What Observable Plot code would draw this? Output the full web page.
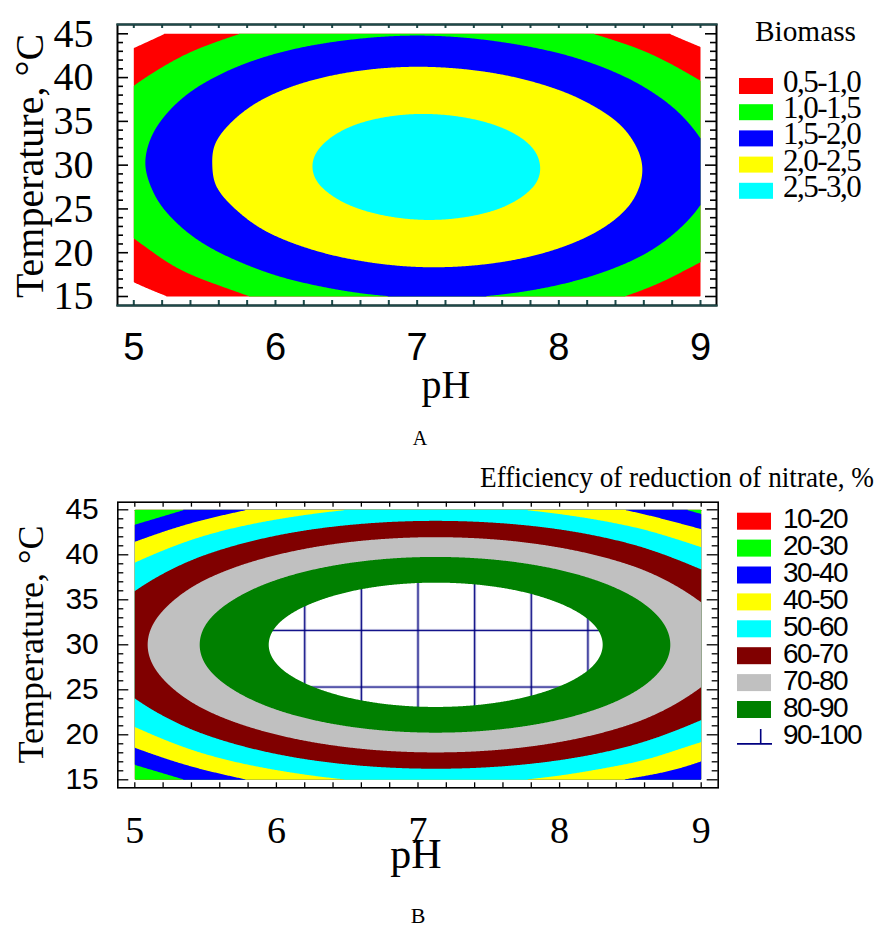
<!DOCTYPE html>
<html><head><meta charset="utf-8">
<script src="https://cdn.jsdelivr.net/npm/d3@7"></script>
<script src="https://cdn.jsdelivr.net/npm/@observablehq/plot@0.6"></script>
<style>
body{margin:0;background:#fff;}
#root{position:relative;width:880px;height:928px;overflow:hidden;}
#root svg{position:absolute;left:0;}
</style></head><body><div id="root"></div>
<script>
// ---------------- DATA ----------------
const phGrid   = [5, 5.5, 6, 6.5, 7, 7.5, 8, 8.5, 9];
const tempGrid = [15, 17.5, 20, 22.5, 25, 27.5, 30, 32.5, 35, 37.5, 40, 42.5, 45];

// Biomass (values at tempGrid, one array per pH)
const biomass_pH5_0 = [0.30, 0.60, 0.84, 1.08, 1.26, 1.36, 1.41, 1.38, 1.29, 1.13, 0.91, 0.62, 0.26];
const biomass_pH5_5 = [0.72, 1.09, 1.40, 1.64, 1.81, 1.92, 1.95, 1.93, 1.83, 1.67, 1.44, 1.15, 0.79];
const biomass_pH6_0 = [1.14, 1.51, 1.81, 2.05, 2.21, 2.32, 2.35, 2.32, 2.22, 2.06, 1.83, 1.53, 1.17];
const biomass_pH6_5 = [1.41, 1.77, 2.07, 2.30, 2.47, 2.57, 2.60, 2.56, 2.46, 2.29, 2.06, 1.76, 1.39];
const biomass_pH7_0 = [1.52, 1.89, 2.18, 2.41, 2.57, 2.67, 2.69, 2.66, 2.55, 2.38, 2.14, 1.84, 1.47];
const biomass_pH7_5 = [1.49, 1.85, 2.14, 2.36, 2.52, 2.61, 2.64, 2.60, 2.49, 2.31, 2.07, 1.76, 1.39];
const biomass_pH8_0 = [1.31, 1.66, 1.95, 2.17, 2.32, 2.41, 2.43, 2.39, 2.28, 2.10, 1.85, 1.54, 1.16];
const biomass_pH8_5 = [0.97, 1.32, 1.61, 1.83, 1.98, 2.06, 2.08, 2.03, 1.92, 1.73, 1.48, 1.17, 0.79];
const biomass_pH9_0 = [0.52, 0.83, 1.12, 1.33, 1.48, 1.56, 1.57, 1.52, 1.40, 1.22, 0.96, 0.65, 0.26];

// Efficiency of reduction of nitrate, % (values at tempGrid, one array per pH)
const eff_pH5_0 = [20.2, 34.7, 46.5, 55.7, 62.2, 66.2, 67.5, 66.2, 62.2, 55.7, 46.5, 34.7, 20.2];
const eff_pH5_5 = [33.7, 48.2, 60.0, 69.2, 75.7, 79.7, 81.0, 79.7, 75.7, 69.2, 60.0, 48.2, 33.7];
const eff_pH6_0 = [43.6, 58.1, 69.9, 79.1, 85.6, 89.6, 90.9, 89.6, 85.6, 79.1, 69.9, 58.1, 43.6];
const eff_pH6_5 = [49.9, 64.4, 76.2, 85.4, 91.9, 95.9, 97.2, 95.9, 91.9, 85.4, 76.2, 64.4, 49.9];
const eff_pH7_0 = [52.6, 67.1, 78.9, 88.1, 94.6, 98.6, 99.9, 98.6, 94.6, 88.1, 78.9, 67.1, 52.6];
const eff_pH7_5 = [51.7, 66.2, 78.0, 87.2, 93.7, 97.7, 99.0, 97.7, 93.7, 87.2, 78.0, 66.2, 51.7];
const eff_pH8_0 = [47.2, 61.7, 73.5, 82.7, 89.2, 93.2, 94.5, 93.2, 89.2, 82.7, 73.5, 61.7, 47.2];
const eff_pH8_5 = [39.1, 53.6, 65.4, 74.6, 81.1, 85.1, 86.4, 85.1, 81.1, 74.6, 65.4, 53.6, 39.1];
const eff_pH9_0 = [32.0, 41.9, 53.7, 62.9, 69.4, 73.4, 74.7, 73.4, 69.4, 62.9, 53.7, 41.9, 27.4];

// Contour levels, legend labels and colours
const biomassLevels = [0.5, 1.0, 1.5, 2.0, 2.5];
const biomassLabels = ["0,5-1,0", "1,0-1,5", "1,5-2,0", "2,0-2,5", "2,5-3,0"];
const biomassColors = ["#ff0000", "#00ff00", "#0000ff", "#ffff00", "#00ffff"];

const effLevels = [10, 20, 30, 40, 50, 60, 70, 80];
const effLabels = ["10-20", "20-30", "30-40", "40-50", "50-60", "60-70", "70-80", "80-90", "90-100"];
const effColors = ["#ff0000", "#00ff00", "#0000ff", "#ffff00", "#00ffff", "#800000", "#c0c0c0", "#008000"];
const effTopLevel = 90;           // 90-100 : hatched (white with grid)
const hatchPH = [6.2, 6.6];       // two neighbouring grid lines of the hatch
const hatchT = 31.6;              // one horizontal hatch line

// Axis ticks
const phTickLabels = [5, 6, 7, 8, 9];
const phMinorTicks = [5, 5.2, 5.4, 5.6, 5.8, 6, 6.2, 6.4, 6.6, 6.8, 7, 7.2, 7.4, 7.6, 7.8, 8, 8.2, 8.4, 8.6, 8.8, 9];
const tempTickLabels = [15, 20, 25, 30, 35, 40, 45];
const tempMinorTicks = [16, 17, 18, 19, 21, 22, 23, 24, 26, 27, 28, 29, 31, 32, 33, 34, 36, 37, 38, 39, 41, 42, 43, 44];

// ---------------- BUILD ----------------
function toTable(rows) {
  return phGrid.flatMap((p, i) => tempGrid.map((t, j) => ({pH: p, t, v: rows[i][j]})));
}
const biomassData = toTable([biomass_pH5_0, biomass_pH5_5, biomass_pH6_0, biomass_pH6_5, biomass_pH7_0, biomass_pH7_5, biomass_pH8_0, biomass_pH8_5, biomass_pH9_0]);
const effData = toTable([eff_pH5_0, eff_pH5_5, eff_pH6_0, eff_pH6_5, eff_pH7_0, eff_pH7_5, eff_pH8_0, eff_pH8_5, eff_pH9_0]);

// Smooth (bicubic Catmull-Rom) raster interpolator over the regular sample grid,
// used by the contour mark instead of the piecewise-linear barycentric one.
function gridSpline(nx, ny) {
  return (index, w, h, X, Y, V) => {
    const gx = new Float64Array(nx), gy = new Float64Array(ny);
    const G = Array.from({length: nx}, () => new Float64Array(ny));
    for (const i of index) {
      const a = Math.floor(i / ny), b = i % ny;
      gx[a] = X[i]; gy[b] = Y[i]; G[a][b] = V[i];
    }
    const val = (a, b) => {
      if (a < 0) return 2 * val(0, b) - val(1, b);
      if (a > nx - 1) return 2 * val(nx - 1, b) - val(nx - 2, b);
      if (b < 0) return 2 * val(a, 0) - val(a, 1);
      if (b > ny - 1) return 2 * val(a, ny - 1) - val(a, ny - 2);
      return G[a][b];
    };
    const cr = (p0, p1, p2, p3, t) =>
      0.5 * (2 * p1 + (p2 - p0) * t + (2 * p0 - 5 * p1 + 4 * p2 - p3) * t * t + (3 * p1 - p0 - 3 * p2 + p3) * t * t * t);
    const out = new Float64Array(w * h);
    const sx = (nx - 1) / (gx[nx - 1] - gx[0]), sy = (ny - 1) / (gy[ny - 1] - gy[0]);
    for (let r = 0; r < h; ++r) {
      const v = Math.max(0, Math.min(ny - 1, (r + 0.5 - gy[0]) * sy));
      const b = Math.min(ny - 2, Math.floor(v)), tv = v - b;
      for (let c = 0; c < w; ++c) {
        const u = Math.max(0, Math.min(nx - 1, (c + 0.5 - gx[0]) * sx));
        const a = Math.min(nx - 2, Math.floor(u)), tu = u - a;
        const col = [];
        for (let k = -1; k <= 2; ++k) {
          col.push(cr(val(a - 1, b + k), val(a, b + k), val(a + 1, b + k), val(a + 2, b + k), tu));
        }
        out[r * w + c] = cr(col[0], col[1], col[2], col[3], tv);
      }
    }
    return out;
  };
}
const smooth = gridSpline(phGrid.length, tempGrid.length);

const SERIF = "'Liberation Serif','Times New Roman',serif";
const SANS = "'Liberation Sans',Arial,sans-serif";
const W = 880;
const teal = "#1d4a4a";

function tickMarks(fw, fh, o) {
  return [
    Plot.tickX(phMinorTicks, {x: d => d, insetTop: fh - o.xBottom, stroke: o.xStroke, strokeWidth: o.xw}),
    Plot.tickX(phMinorTicks, {x: d => d, insetBottom: fh - o.xTop, stroke: o.xStroke, strokeWidth: o.xw}),
    Plot.tickY(tempMinorTicks, {y: d => d, insetRight: fw - o.yMinor, stroke: o.yStroke, strokeWidth: o.yw}),
    Plot.tickY(tempTickLabels, {y: d => d, insetRight: fw - o.yMajor, stroke: o.yStroke, strokeWidth: o.yw}),
    Plot.tickY(tempMinorTicks, {y: d => d, insetLeft: fw - o.yMinor, stroke: o.yStroke, strokeWidth: o.yw}),
    Plot.tickY(tempTickLabels, {y: d => d, insetLeft: fw - o.yMajor, stroke: o.yStroke, strokeWidth: o.yw})
  ];
}

function addText(svg, str, o) {
  const t = d3.select(svg).append("text")
    .attr("font-family", o.family).attr("font-size", o.size)
    .attr("text-anchor", o.anchor || "start").attr("fill", "#000").text(str);
  if (o.rotate) t.attr("transform", `translate(${o.x},${o.y}) rotate(${o.rotate})`);
  else t.attr("x", o.x).attr("y", o.y);
  if (o.spacing) t.attr("letter-spacing", o.spacing);
  if (o.length) t.attr("textLength", o.length).attr("lengthAdjust", "spacingAndGlyphs");
  return t;
}
function styleAxis(svg, k, size, family) {
  d3.select(svg).selectAll(`g[aria-label="${k}-axis tick label"]`)
    .attr("font-size", size).attr("font-family", family)
    .selectAll("text").attr("font-size", null).attr("font-family", null);
}

const root = document.getElementById("root");

// ---------- Chart A ----------
{
  const H = 460, L = 117, R = 716, T = 24, B = 305;
  const fw = R - L, fh = B - T;
  const plot = Plot.plot({
    width: W, height: H,
    marginLeft: L, marginRight: W - R, marginTop: T, marginBottom: H - B,
    style: {background: "transparent", overflow: "visible"},
    x: {domain: [5, 9], insetLeft: 16.3, insetRight: 16},
    y: {domain: [15, 45], insetTop: 9.3, insetBottom: 9},
    color: {type: "ordinal", domain: biomassLevels, range: biomassColors},
    marks: [
      Plot.contour(biomassData, {x: "pH", y: "t", fill: "v", thresholds: biomassLevels,
        interpolate: smooth, x1: 5, x2: 9, y1: 15, y2: 45, pixelSize: 1}),
      ...tickMarks(fw, fh, {xTop: 4, xBottom: 5, yMinor: 6, yMajor: 11, xStroke: teal, yStroke: "#000", xw: 2, yw: 1.6}),
      Plot.frame({stroke: "#000", strokeWidth: 2}),
      Plot.frame({anchor: "top", stroke: teal, strokeWidth: 2.2}),
      Plot.frame({anchor: "bottom", stroke: teal, strokeWidth: 2.2}),
      Plot.axisX(phTickLabels, {tickSize: 0, tickPadding: 28, tickFormat: d => String(d), label: null}),
      Plot.axisY(tempTickLabels, {tickSize: 0, tickPadding: 24, tickFormat: d => String(d), label: null})
    ]
  });
  plot.style.top = "0px";
  root.appendChild(plot);
  styleAxis(plot, "x", 38, SANS);
  styleAxis(plot, "y", 40, SERIF);
  addText(plot, "Temperature, °C", {x: 43, y: 166, rotate: -90, size: 40, family: SERIF, anchor: "middle"});
  addText(plot, "pH", {x: 446, y: 398, size: 40, family: SERIF, anchor: "middle"});
  addText(plot, "A", {x: 420, y: 445, size: 20, family: SERIF, anchor: "middle"});
  addText(plot, "Biomass", {x: 755, y: 40.5, size: 30, family: SERIF, length: 101});
  biomassLabels.forEach((lab, i) => {
    const y = 78 + i * 26.2;
    d3.select(plot).append("rect").attr("x", 739).attr("y", y).attr("width", 34).attr("height", 16).attr("fill", biomassColors[i]);
    addText(plot, lab, {x: 783, y: y + 14, size: 31, family: SERIF, spacing: -1.5});
  });
}

// ---------- Chart B ----------
{
  const top = 460;
  const H = 468, L = 117.3, R = 717.7, T = 501.7 - top, B = 787.3 - top;
  const fw = R - L, fh = B - T;
  const hatch = "url(#hatchB)";
  const plot = Plot.plot({
    width: W, height: H,
    marginLeft: L, marginRight: W - R, marginTop: T, marginBottom: H - B,
    style: {background: "transparent", overflow: "visible"},
    x: {domain: [5, 9], insetLeft: 17, insetRight: 17},
    y: {domain: [15, 45], insetTop: 7.6, insetBottom: 8},
    color: {type: "ordinal", domain: effLevels, range: effColors},
    marks: [
      Plot.contour(effData, {x: "pH", y: "t", fill: "v", thresholds: effLevels,
        interpolate: smooth, x1: 5, x2: 9, y1: 15, y2: 45, pixelSize: 1}),
      Plot.contour(effData, {x: "pH", y: "t", value: "v", fill: hatch, thresholds: [effTopLevel],
        interpolate: smooth, x1: 5, x2: 9, y1: 15, y2: 45, pixelSize: 1}),
      ...tickMarks(fw, fh, {xTop: 5, xBottom: 5, yMinor: 6, yMajor: 11, xStroke: "#000", yStroke: "#000", xw: 1.3, yw: 1.3}),
      Plot.frame({stroke: "#000", strokeWidth: 1.6}),
      Plot.axisX(phTickLabels, {tickSize: 0, tickPadding: 28, tickFormat: d => String(d), label: null}),
      Plot.axisY(tempTickLabels, {tickSize: 0, tickPadding: 19, tickFormat: d => String(d), label: null})
    ]
  });
  plot.style.top = top + "px";
  root.appendChild(plot);
  styleAxis(plot, "x", 38, SERIF);
  styleAxis(plot, "y", 30, SANS);

  // hatch pattern for the 90-100 level, aligned to the data scales
  const xs = plot.scale("x"), ys = plot.scale("y");
  const x0 = xs.apply(hatchPH[0]);
  const step = xs.apply(hatchPH[1]) - x0;
  const y0 = ys.apply(hatchT);
  const defs = d3.select(plot).insert("defs", ":first-child");
  const pat = defs.append("pattern").attr("id", "hatchB").attr("patternUnits", "userSpaceOnUse")
    .attr("x", x0 - step / 2).attr("y", y0 - step / 2).attr("width", step).attr("height", step);
  pat.append("rect").attr("width", step).attr("height", step).attr("fill", "#fff");
  pat.append("path").attr("d", `M${step / 2},0V${step}M0,${step / 2}H${step}`)
    .attr("stroke", "#000080").attr("stroke-width", 1.6).attr("fill", "none");

  addText(plot, "Temperature, °C", {x: 43.3, y: 184.5, rotate: -90, size: 36, family: SERIF, anchor: "middle"});
  addText(plot, "pH", {x: 416, y: 408, size: 42, family: SERIF, anchor: "middle"});
  addText(plot, "B", {x: 418, y: 463, size: 22, family: SERIF, anchor: "middle"});
  addText(plot, "Efficiency of reduction of nitrate, %", {x: 480, y: 26.7, size: 30, family: SERIF, length: 394});
  effLabels.forEach((lab, i) => {
    const y = 52.7 + i * 26.9;
    if (i < effColors.length) {
      d3.select(plot).append("rect").attr("x", 737).attr("y", y).attr("width", 34).attr("height", 17).attr("fill", effColors[i]);
    } else {
      d3.select(plot).append("path").attr("d", `M737,${y + 16}H772M760.7,${y + 1}V${y + 16}`)
        .attr("stroke", "#000080").attr("stroke-width", 1.6).attr("fill", "none");
    }
    addText(plot, lab, {x: 783, y: y + 15.6, size: 28, family: SANS, spacing: -1.5});
  });
}
</script></body></html>
